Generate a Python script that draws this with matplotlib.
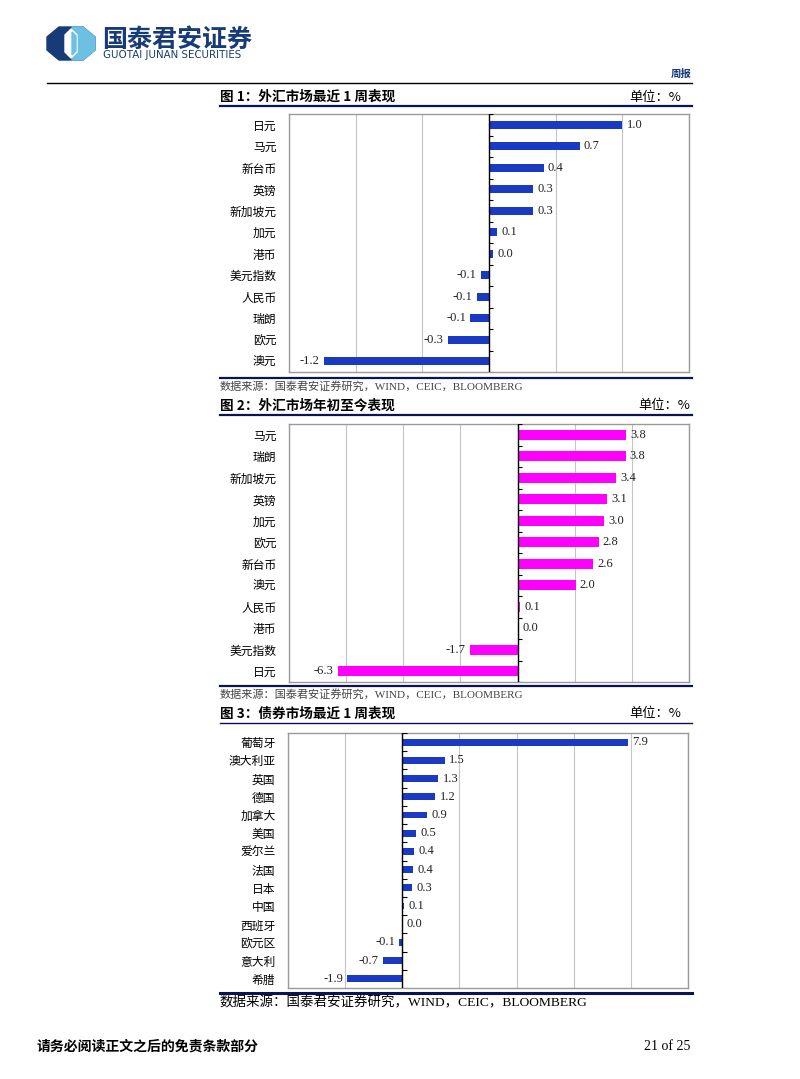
import numpy as np
import matplotlib
matplotlib.use('Agg')
import matplotlib.pyplot as plt
from matplotlib.patches import Polygon

plt.rcParams['font.family'] = ['Noto Sans CJK SC', 'DejaVu Sans']

# chart 1: fx, last week (%)
fx_week_names = ['日元', '马元', '新台币', '英镑', '新加坡元', '加元', '港币',
                 '美元指数', '人民币', '瑞朗', '欧元', '澳元']
fx_week_vals = [1.0, 0.68, 0.41, 0.33, 0.33, 0.06, 0.03, -0.06, -0.09, -0.14, -0.31, -1.24]

# chart 2: fx, year to date (%)
fx_ytd_names = ['马元', '瑞朗', '新加坡元', '英镑', '加元', '欧元', '新台币', '澳元',
                '人民币', '港币', '美元指数', '日元']
fx_ytd_vals = [3.79, 3.78, 3.44, 3.12, 3.04, 2.84, 2.64, 2.03, 0.1, 0.01, -1.67, -6.3]

# chart 3: bonds, last week (%)
bond_names = ['葡萄牙', '澳大利亚', '英国', '德国', '加拿大', '美国', '爱尔兰', '法国',
              '日本', '中国', '西班牙', '欧元区', '意大利', '希腊']
bond_vals = [7.9, 1.5, 1.26, 1.16, 0.86, 0.49, 0.42, 0.39, 0.35, 0.07, 0.01, -0.1, -0.67, -1.93]

W, H = 800, 1079
fig = plt.figure(figsize=(W / 100, H / 100), dpi=100)

# page overlay in pixel coordinates
pg = fig.add_axes([0, 0, 1, 1])
pg.set_xlim(0, W)
pg.set_ylim(H, 0)
pg.axis('off')

navy = '#0b1450'
serif = ['Liberation Serif', 'Noto Sans CJK SC']

# logo
pg.add_patch(Polygon([(59, 27), (83, 27), (95, 37), (95, 50), (83, 60), (59, 60), (47, 50), (47, 37)],
                     color='#173a78'))
pg.add_patch(Polygon([(72, 27), (83, 27), (95, 37), (95, 50), (83, 60), (72, 60)], color='#6cc0e2'))
pg.add_patch(Polygon([(71, 29), (77, 35), (77, 52), (71, 58), (65, 52), (65, 35)], color='white'))
pg.add_patch(Polygon([(72, 32), (76, 36), (76, 51), (72, 55)], color='#6cc0e2'))
pg.text(102, 40, '国泰君安证券', fontsize=18, weight='bold', color='#173a78', va='center')
pg.text(103, 55, 'GUOTAI JUNAN SECURITIES', fontsize=7.4, color='#173a78', va='center',
        family=['DejaVu Sans'])
pg.text(692, 74, '周报', fontsize=7.5, weight='bold', color='#173a78', ha='right', va='center')
pg.plot([47, 692], [83, 83], color='black', lw=1)

# titles, lines, sources
titles = [('图 1：外汇市场最近 1 周表现', 97, 106, 378, 386, 681),
          ('图 2：外汇市场年初至今表现', 406, 415, 686, 694, 690),
          ('图 3：债券市场最近 1 周表现', 714, 723, 993, 1003, 681)]
for i, (t, ty, l1, l2, sy, ux) in enumerate(titles):
    pg.text(220, ty, t, fontsize=9.8, weight='bold', va='center', color='black')
    pg.text(ux, ty, '单位：%', fontsize=9.5, va='center', ha='right', color='black')
    pg.plot([220, 692], [l1, l1], color=navy, lw=1.6 if i < 2 else 1.0)
    pg.plot([220, 692], [l2, l2], color=navy, lw=1.6 if i < 2 else 2.2)
    if i < 2:
        pg.text(220, sy, '数据来源：国泰君安证券研究，WIND，CEIC，BLOOMBERG', fontsize=8,
                va='center', color='#444444', family=serif)
    else:
        pg.text(220, sy, '数据来源：国泰君安证券研究，WIND，CEIC，BLOOMBERG', fontsize=9.7,
                va='center', color='black', family=serif)

pg.text(37, 1046, '请务必阅读正文之后的免责条款部分', fontsize=10, weight='bold', va='center')
pg.text(690, 1047, '21 of 25', fontsize=10, ha='right', va='center', family=serif)


def bar_panel(box, names, vals, xlim, step, color, bh):
    ax = fig.add_axes([box[0] / W, 1 - box[3] / H, (box[2] - box[0]) / W, (box[3] - box[1]) / H])
    y = np.arange(len(names))
    ax.barh(y, vals, height=bh, color=color, zorder=3)
    ax.set_xlim(*xlim)
    ax.set_ylim(len(names) - 0.5, -0.5)
    ax.set_xticks(np.arange(xlim[0], xlim[1] + step / 2, step))
    ax.set_xticklabels([])
    ax.xaxis.grid(True, color='#c4c4c4', lw=0.8, zorder=0)
    ax.tick_params(axis='x', length=0)
    ax.set_yticks(y)
    ax.set_yticklabels(names, fontsize=8.5)
    ax.tick_params(axis='y', length=0, pad=9)
    for s in ax.spines.values():
        s.set_color('#9a9a9a')
        s.set_linewidth(1.0)
    ax.axvline(0, color='black', lw=1, zorder=4)
    tick = (xlim[1] - xlim[0]) * 0.011
    ax.hlines(np.arange(len(names) + 1) - 0.5, 0, tick, color='black', lw=0.8, zorder=4)
    for yi, v in zip(y, vals):
        if v >= 0:
            ax.annotate('%.1f' % v, (v, yi), xytext=(3, 0), textcoords='offset points',
                        ha='left', va='center', fontsize=9, family=serif, color='#222222')
        else:
            ax.annotate('%.1f' % v, (v, yi), xytext=(-3, 0), textcoords='offset points',
                        ha='right', va='center', fontsize=9, family=serif, color='#222222')
    return ax


bar_panel((289, 114, 689, 372), fx_week_names, fx_week_vals, (-1.5, 1.5), 0.5, '#1a3ac4', 0.38)
bar_panel((289, 424, 689, 682), fx_ytd_names, fx_ytd_vals, (-8, 6), 2, '#ff00ff', 0.45)
bar_panel((288, 733, 688, 988), bond_names, bond_vals, (-4, 10), 2, '#1a3ac4', 0.38)

fig.savefig('out.png', dpi=100)
